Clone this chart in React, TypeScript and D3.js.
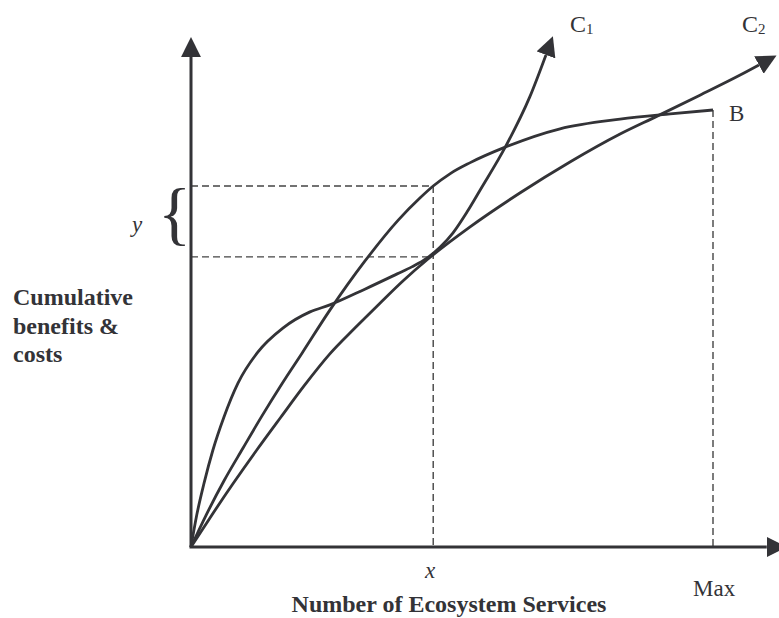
import * as d3 from "d3";
import React, { useEffect, useRef } from "react";

// benefit curve B (concave, ends at Max)
const benefitX = [0, 2.9, 6.3, 10.0, 13.6, 17.4, 21.3, 26.6, 33.3, 39.7, 43.9, 46.4, 49.6, 53.4, 60.2, 70.7, 82.2, 91.8, 100];
const benefitY = [0, 7.3, 15.1, 22.7, 30.0, 37.3, 44.4, 54.2, 65.4, 74.8, 79.9, 82.6, 85.4, 87.9, 91.5, 95.7, 97.9, 99.1, 100];

// cost curve C1 (S shaped)
const cost1X = [0, 1.1, 2.5, 4.2, 6.3, 9.0, 12.8, 17.6, 22.8, 26.6, 33.3, 39.5, 42.3, 45.2, 47.7, 50.2, 52.9, 55.4, 60.2, 64.9, 68.0];
const cost1Y = [0, 7.3, 14.6, 22.2, 29.7, 37.5, 44.6, 50.1, 53.8, 55.4, 59.0, 62.5, 64.1, 66.1, 68.6, 71.9, 76.7, 81.7, 91.5, 103.0, 112.6];

// cost curve C2 (gently concave)
const cost2X = [0, 3.6, 8.0, 12.6, 17.2, 21.8, 26.6, 31.4, 36.2, 40.8, 45.4, 53.4, 63.0, 72.6, 82.2, 89.3, 97.5, 105.2, 108.8];
const cost2Y = [0, 6.6, 14.4, 22.2, 29.7, 37.1, 44.2, 50.1, 55.8, 61.1, 65.9, 73.2, 81.0, 88.1, 94.5, 98.6, 103.4, 108.0, 110.3];

// guide values
const markX = 46.4;
const markBenefit = 82.6;
const markCost = 66.4;
const maxX = 100;
const xAxisEnd = 110.3;
const yAxisEnd = 112.1;

const yAxisLabel = ["Cumulative", "benefits &", "costs"];
const xAxisLabel = "Number of Ecosystem Services";

const ink = "#333337";
const serif = "'Liberation Serif', 'Times New Roman', serif";

function InitDiagram(svgEl: SVGSVGElement) {
    const fullwidth = 779;
    const fullheight = 618;

    const xScale = d3.scaleLinear().domain([0, 100]).range([191, 713]);
    const yScale = d3.scaleLinear().domain([0, 100]).range([547, 110]);

    const svg = d3.select(svgEl)
        .attr("width", fullwidth)
        .attr("height", fullheight);
    svg.selectAll("*").remove();

    // arrow head
    svg.append("defs").append("marker")
        .attr("id", "head")
        .attr("markerUnits", "userSpaceOnUse")
        .attr("markerWidth", 21)
        .attr("markerHeight", 21)
        .attr("refX", 0)
        .attr("refY", 10)
        .attr("orient", "auto")
        .append("path")
        .attr("d", "M0,0 L20,10 L0,20 Z")
        .attr("fill", ink);

    // dashed guides
    const dashed = svg.append("g")
        .attr("stroke", "#444")
        .attr("stroke-width", 1.4)
        .attr("stroke-dasharray", "7,4")
        .attr("fill", "none");
    dashed.append("line")
        .attr("x1", xScale(0)).attr("x2", xScale(markX))
        .attr("y1", yScale(markBenefit)).attr("y2", yScale(markBenefit));
    dashed.append("line")
        .attr("x1", xScale(0)).attr("x2", xScale(markX))
        .attr("y1", yScale(markCost)).attr("y2", yScale(markCost));
    dashed.append("line")
        .attr("x1", xScale(markX)).attr("x2", xScale(markX))
        .attr("y1", yScale(markBenefit)).attr("y2", yScale(0));
    dashed.append("line")
        .attr("x1", xScale(maxX)).attr("x2", xScale(maxX))
        .attr("y1", yScale(100)).attr("y2", yScale(0));

    // axes
    svg.append("line")
        .attr("x1", xScale(0)).attr("y1", yScale(0))
        .attr("x2", xScale(0)).attr("y2", yScale(yAxisEnd))
        .attr("stroke", ink).attr("stroke-width", 3)
        .attr("marker-end", "url(#head)");
    svg.append("line")
        .attr("x1", xScale(0) - 1.5).attr("y1", yScale(0))
        .attr("x2", xScale(xAxisEnd)).attr("y2", yScale(0))
        .attr("stroke", ink).attr("stroke-width", 3)
        .attr("marker-end", "url(#head)");

    // curves
    const line = d3.line<number>()
        .x(d => xScale(d))
        .curve(d3.curveMonotoneX);

    const curves = [
        { xs: benefitX, ys: benefitY, arrow: false },
        { xs: cost1X, ys: cost1Y, arrow: true },
        { xs: cost2X, ys: cost2Y, arrow: true },
    ];
    curves.forEach(c => {
        const path = svg.append("path")
            .attr("d", line.y((_, i) => yScale(c.ys[i]))(c.xs))
            .attr("fill", "none")
            .attr("stroke", ink)
            .attr("stroke-width", 2.8)
            .attr("stroke-linejoin", "round");
        if (c.arrow) path.attr("marker-end", "url(#head)");
    });

    // labels
    const text = svg.append("g")
        .attr("font-family", serif)
        .attr("fill", ink);

    const c1 = text.append("text").attr("x", 570).attr("y", 32).attr("font-size", 24);
    c1.append("tspan").text("C");
    c1.append("tspan").attr("font-size", 15).attr("dy", 2).text("1");

    const c2 = text.append("text").attr("x", 742).attr("y", 32).attr("font-size", 24);
    c2.append("tspan").text("C");
    c2.append("tspan").attr("font-size", 15).attr("dy", 2).text("2");

    text.append("text").attr("x", 729).attr("y", 121).attr("font-size", 23).text("B");

    text.append("text").attr("x", 132).attr("y", 232)
        .attr("font-size", 23).attr("font-style", "italic").text("y");
    text.append("text").attr("x", 158).attr("y", 237)
        .attr("font-size", 69).text("{");

    text.append("text").attr("x", 425).attr("y", 578)
        .attr("font-size", 23).attr("font-style", "italic").text("x");
    text.append("text").attr("x", 693).attr("y", 596)
        .attr("font-size", 23).text("Max");

    text.append("text").attr("x", 449).attr("y", 612)
        .attr("font-size", 24).attr("font-weight", "bold")
        .attr("text-anchor", "middle").text(xAxisLabel);

    yAxisLabel.forEach((s, i) => {
        text.append("text").attr("x", 13).attr("y", 305 + i * 28.5)
            .attr("font-size", 24).attr("font-weight", "bold").text(s);
    });
}

export default function App() {
    const svg = useRef<SVGSVGElement>(null);

    useEffect(() => {
        if (svg.current) InitDiagram(svg.current);
    }, []);

    return <div style={{ position: "absolute", left: 0, top: 0, width: 779, height: 618, background: "#fff" }}>
        <svg ref={svg} style={{ display: "block" }}></svg>
    </div>;
}
